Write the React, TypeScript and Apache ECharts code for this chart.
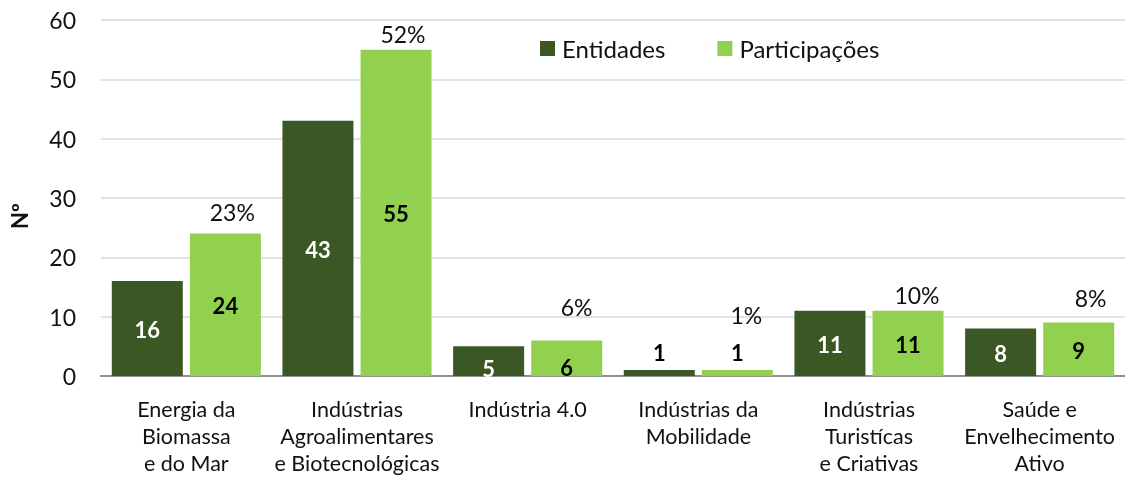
import React, { useEffect, useRef } from "react";
import * as echarts from "echarts";

const categories = [
  "Energia da\nBiomassa\ne do Mar",
  "Indústrias\nAgroalimentares\ne Biotecnológicas",
  "Indústria 4.0",
  "Indústrias da\nMobilidade",
  "Indústrias\nTuristícas\ne Criativas",
  "Saúde e\nEnvelhecimento\nAtivo",
];
const entidades = [16, 43, 5, 1, 11, 8];
const participacoes = [24, 55, 6, 1, 11, 9];
const percentagens = [23, 52, 6, 1, 10, 8];
const yTicks = [0, 10, 20, 30, 40, 50, 60];

const DARK = "#3A5724";
const LIGHT = "#92D050";
const FONT = "Lato";

// label styling offsets (pixels) for the percentage labels above each light bar
const pctOffsets: [number, number][] = [
  [46, -22],
  [46, -16],
  [49, -33],
  [48, -55],
  [48, -16],
  [51, -25],
];

export default function App() {
  const ref = useRef<HTMLDivElement>(null);
  useEffect(() => {
    const chart = echarts.init(ref.current!, null, { renderer: "svg" });
    const valueLabel = (v: number, dark: boolean) => {
      if (v <= 1) {
        return {
          value: v,
          label: { show: true, position: "top", distance: 7, color: "#000", fontWeight: "bold", fontSize: 22, fontFamily: FONT },
        };
      }
      const small = v <= 6;
      return {
        value: v,
        label: {
          show: true,
          position: "inside",
          color: dark ? "#fff" : "#000",
          fontWeight: "bold",
          fontSize: 22,
          fontFamily: FONT,
          offset: small ? [0, dark ? 7 : 9] : [0, 1],
        },
      };
    };
    chart.setOption({
      animation: false,
      textStyle: { fontFamily: FONT },
      grid: { left: 101, right: 0, top: 20, bottom: 101, containLabel: false },
      legend: {
        left: 535,
        top: 31,
        itemWidth: 15,
        itemHeight: 15,
        itemGap: 52,
        icon: "rect",
        textStyle: { fontSize: 24, fontFamily: FONT, color: "#111", lineHeight: 25, padding: [0, 0, 0, 2] },
        data: ["Entidades", "Participações"],
      },
      xAxis: {
        type: "category",
        data: categories,
        axisLine: { lineStyle: { color: "#8C8C8C", width: 2 } },
        axisTick: { show: false },
        axisLabel: { fontSize: 21.5, fontFamily: FONT, color: "#111", lineHeight: 27, margin: 19, interval: 0 },
      },
      yAxis: {
        type: "value",
        min: yTicks[0],
        max: yTicks[yTicks.length - 1],
        interval: 10,
        axisLine: { show: false },
        axisTick: { show: false },
        splitLine: { lineStyle: { color: "#D9D9D9", width: 1.5 } },
        axisLabel: { fontSize: 23, fontFamily: FONT, color: "#111", margin: 25 },
      },
      graphic: [
        {
          type: "text",
          x: 8,
          y: 229,
          rotation: Math.PI / 2,
          style: { text: "Nº", fontSize: 22, fontFamily: FONT, fill: "#111", fontWeight: "bold" },
        },
      ],
      series: [
        {
          name: "Entidades",
          type: "bar",
          barWidth: 71,
          barGap: "10%",
          itemStyle: { color: DARK },
          data: entidades.map((v) => valueLabel(v, true)),
        },
        {
          name: "Participações",
          type: "bar",
          barWidth: 71,
          barGap: "10%",
          itemStyle: { color: LIGHT },
          data: participacoes.map((v) => valueLabel(v, false)),
        },
        {
          name: "pct",
          type: "scatter",
          symbolSize: 0,
          silent: true,
          itemStyle: { opacity: 1 },
          data: participacoes.map((v, i) => ({
            value: v,
            label: {
              show: true,
              position: "inside",
              offset: pctOffsets[i],
              formatter: percentagens[i] + "%",
              fontSize: 23,
              fontFamily: FONT,
              color: "#111",
              opacity: 1,
            },
          })),
          z: 10,
        },
      ],
    });
    return () => chart.dispose();
  }, []);
  return <div ref={ref} style={{ position: "fixed", left: 0, top: 0, width: 1125, height: 477 }} />;
}
